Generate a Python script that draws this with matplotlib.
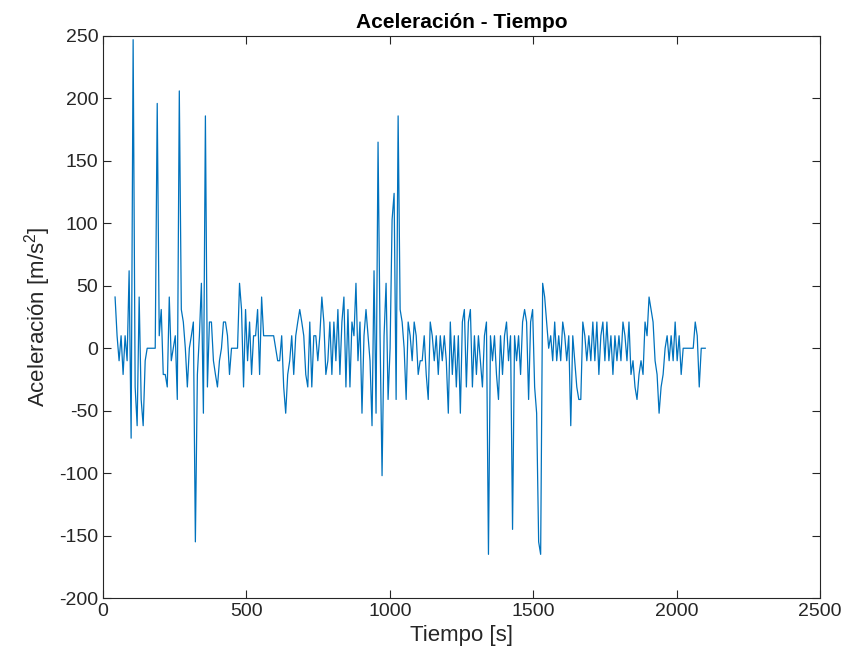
import numpy as np
import matplotlib
matplotlib.use("Agg")
import matplotlib.pyplot as plt

plt.rcParams['font.family'] = ['Liberation Sans', 'DejaVu Sans']
plt.rcParams['mathtext.fontset'] = 'custom'
plt.rcParams['mathtext.rm'] = 'Liberation Sans'
plt.rcParams['mathtext.it'] = 'Liberation Sans:italic'
plt.rcParams['axes.unicode_minus'] = False

# muestreo: primer instante y paso (s)
t_inicio = 42
paso = 7

# aceleracion (m/s^2), leida a ojo del grafico original
aceleracion = [
    41, 10, -10, 10, -21, 10, -10, 62, -72, 247,
    -31, -62, 41, -41, -62, -10, 0, 0, 0, 0,
    0, 196, 10, 31, -21, -21, -31, 41, -10, 0,
    10, -41, 206, 31, 21, 0, -31, 0, 10, 21,
    -155, -21, 10, 52, -52, 186, -31, 21, 21, -10,
    -21, -31, -10, 0, 21, 21, 10, -21, 0, 0,
    0, 0, 52, 31, -31, 31, -10, 21, -21, 10,
    10, 31, -21, 41, 10, 10, 10, 10, 10, 10,
    0, -10, -10, 10, -31, -52, -21, -10, 10, -21,
    10, 21, 31, 21, 10, -21, -31, 21, -31, 10,
    10, -10, 10, 41, 21, -21, -10, 21, -21, 21,
    -10, 31, -21, 21, 41, -31, 31, -31, 21, 10,
    52, -10, 21, -52, 10, 31, 10, -10, -62, 62,
    -52, 165, 10, -102, 10, 52, -41, 0, 103, 124,
    -41, 186, 31, 21, 0, -41, 21, 10, -10, 21,
    10, -21, -10, -10, 10, -21, -41, 21, 10, -10,
    10, -21, 10, -10, 10, -10, -52, 21, -21, 10,
    -31, 10, -52, 21, 31, -31, 21, 31, -31, 10,
    -21, 10, -10, -31, 10, 21, -165, 10, -10, 10,
    -21, -41, 10, -21, 10, 21, -10, 10, -145, 10,
    -10, 10, -21, 21, 31, 21, -41, 21, 31, -31,
    -52, -155, -165, 52, 41, 21, 0, 10, -10, 21,
    -10, 10, -10, 21, 10, -10, 10, -62, 10, -10,
    -31, -41, -41, 21, 10, -10, 10, -10, 21, -10,
    21, -21, 10, 21, -10, 21, -10, 10, -21, 10,
    -10, 10, -10, 21, 10, -10, 21, -21, -10, -31,
    -41, -21, -10, -21, 21, 10, 41, 31, 21, -10,
    -21, -52, -31, -21, 0, 10, -10, 10, -10, 21,
    -10, 10, -21, 0, 0, 0, 0, 0, 0, 21,
    10, -31, 0, 0, 0,
]

tiempo = t_inicio + paso * np.arange(len(aceleracion))

fig = plt.figure(figsize=(8.41, 6.66), dpi=100)
ax = fig.add_axes([0.1225, 0.102, 0.8525, 0.844])
ax.plot(tiempo, aceleracion, color='#0072BD', linewidth=0.9)

ax.set_xlim(0, 2500)
ax.set_ylim(-200, 250)
ax.set_xticks(np.arange(0, 2501, 500))
ax.set_yticks(np.arange(-200, 251, 50))

gris = '#262626'
ax.tick_params(direction='in', length=6, width=0.8, top=True, right=True,
               labelsize=14, colors=gris)
for lado in ax.spines.values():
    lado.set_color(gris)
    lado.set_linewidth(0.8)

ax.set_title('Aceleración - Tiempo', fontsize=15, fontweight='bold', pad=6)
ax.set_xlabel('Tiempo [s]', fontsize=16, color=gris)
ax.set_ylabel('Aceleración [m/s$^2$]', fontsize=16, color=gris)

fig.savefig('out.png', dpi=100)
